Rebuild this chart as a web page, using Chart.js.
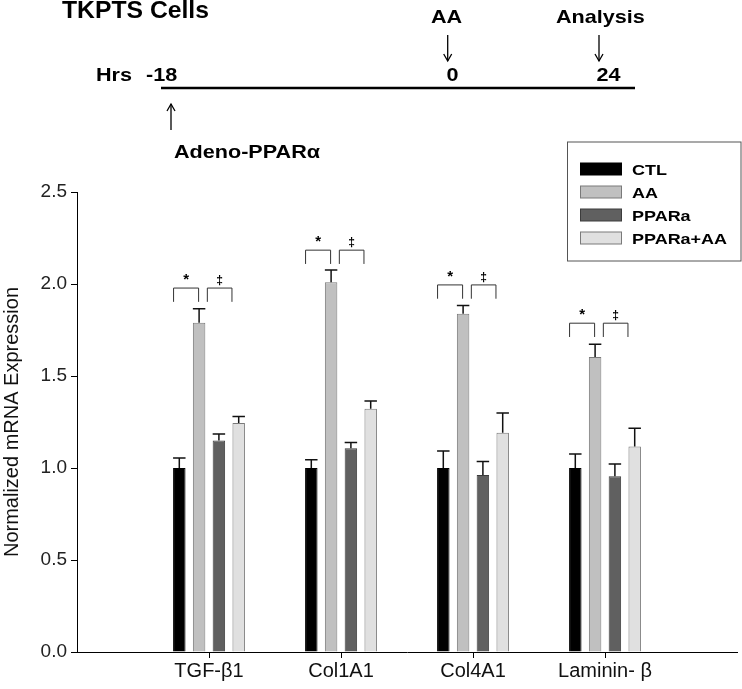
<!DOCTYPE html>
<html><head><meta charset="utf-8">
<script src="https://cdn.jsdelivr.net/npm/chart.js@4.4.1/dist/chart.umd.min.js"></script>
<style>
html,body{margin:0;padding:0;background:#fff;}
#wrap{position:relative;width:742px;height:689px;overflow:hidden;background:#fff;}
#c{position:absolute;left:0;top:0;}
#ann{position:absolute;left:0;top:0;pointer-events:none;}
#ann text{font-family:'Liberation Sans',Arial,sans-serif;font-weight:bold;fill:#000;}
</style></head><body>
<div id="wrap"><canvas id="c" width="742" height="689"></canvas><svg id="ann" width="742" height="689" xmlns="http://www.w3.org/2000/svg"></svg></div>
<script>
// ---- data ----
const categories = ['TGF-β1', 'Col1A1', 'Col4A1', 'Laminin- β'];
const seriesNames = ['CTL', 'AA', 'PPARa', 'PPARa+AA'];
const ctlValues   = [1.00, 1.00, 1.00, 1.00];
const aaValues    = [1.79, 2.01, 1.838, 1.603];
const ppValues    = [1.149, 1.108, 0.962, 0.955];
const ppAaValues  = [1.245, 1.322, 1.192, 1.117];
const ctlErrors   = [0.054, 0.045, 0.092, 0.076];
const aaErrors    = [0.075, 0.066, 0.045, 0.069];
const ppErrors    = [0.036, 0.030, 0.074, 0.067];
const ppAaErrors  = [0.035, 0.042, 0.107, 0.099];
const bracketLevels = [1.978, 2.184, 1.995, 1.787];
const bracketDrop = 0.075;
const sigMarks = ['*', '‡'];
const yTicks = [0.0, 0.5, 1.0, 1.5, 2.0, 2.5];
const yTitle = 'Normalized mRNA Expression';
const timelineTitle = 'TKPTS Cells';
const hourLabels = ['-18', '0', '24'];
const eventLabels = ['Adeno-PPARα', 'AA', 'Analysis'];

// ---- styles ----
const fills   = ['#000000', '#c0c0c0', '#606060', '#e0e0e0'];
const borders = ['#000000', '#7a7a7a', '#3c3c3c', '#7a7a7a'];
const FONT = "'Liberation Sans', Arial, sans-serif";

const labels = ['', ...categories, ''];
const pad = arr => [null, ...arr, null];
const valueSets = [ctlValues, aaValues, ppValues, ppAaValues];
const errorSets = [ctlErrors, aaErrors, ppErrors, ppAaErrors];

const datasets = seriesNames.map((name, i) => ({
  label: name,
  data: pad(valueSets[i]),
  backgroundColor: fills[i],
  borderColor: borders[i],
  borderWidth: 1,
  categoryPercentage: 0.6,
  barPercentage: 0.63
}));

const annotate = {
  id: 'annotate',
  afterDatasetsDraw(chart) {
    const ctx = chart.ctx, y = chart.scales.y;
    ctx.save();
    // error bars (upper only)
    chart.data.datasets.forEach((ds, di) => {
      const meta = chart.getDatasetMeta(di);
      meta.data.forEach((bar, i) => {
        const v = ds.data[i];
        if (v == null) return;
        const e = errorSets[di][i - 1];
        const yb = y.getPixelForValue(v), yt = y.getPixelForValue(v + e);
        const hw = bar.width / 2;
        ctx.strokeStyle = '#111';
        ctx.lineWidth = 1.5;
        ctx.beginPath();
        ctx.moveTo(bar.x, yb); ctx.lineTo(bar.x, yt);
        ctx.moveTo(bar.x - hw, yt); ctx.lineTo(bar.x + hw, yt);
        ctx.stroke();
      });
    });
    // significance brackets
    const m0 = chart.getDatasetMeta(0).data, m1 = chart.getDatasetMeta(1).data, m3 = chart.getDatasetMeta(3).data;
    categories.forEach((c, k) => {
      const i = k + 1;
      const top = y.getPixelForValue(bracketLevels[k]);
      const bot = y.getPixelForValue(bracketLevels[k] - bracketDrop);
      const spans = [
        [m0[i].x - m0[i].width / 2, m1[i].x],
        [m1[i].x + m1[i].width / 2 + 1.5, m3[i].x - m3[i].width / 2]
      ];
      ctx.strokeStyle = '#333';
      ctx.lineWidth = 1;
      spans.forEach(([a, b], s) => {
        ctx.beginPath();
        ctx.moveTo(a + 0.5, bot); ctx.lineTo(a + 0.5, top); ctx.lineTo(b - 0.5, top); ctx.lineTo(b - 0.5, bot);
        ctx.stroke();
        ctx.fillStyle = '#000';
        ctx.textAlign = 'center';
        ctx.textBaseline = 'alphabetic';
        ctx.font = (s === 0 ? 'bold 15px ' : 'bold 12px ') + FONT;
        ctx.fillText(sigMarks[s], (a + b) / 2, top - 4);
      });
    });
    ctx.restore();
  }
};

new Chart(document.getElementById('c'), {
  type: 'bar',
  data: { labels, datasets },
  plugins: [annotate],
  options: {
    responsive: false,
    animation: false,
    layout: { padding: { top: 192, right: 5, left: 0, bottom: 0 } },
    plugins: { legend: { display: false }, tooltip: { enabled: false } },
    scales: {
      x: {
        type: 'category',
        offset: false,
        grid: {
          offset: false, drawOnChartArea: false, drawTicks: true, tickLength: 6,
          tickColor: c => (c.index > 0 && c.index < labels.length - 1) ? '#000' : 'rgba(0,0,0,0)'
        },
        border: { color: '#000', width: 1 },
        ticks: { autoSkip: false, maxRotation: 0, padding: 1, color: '#111', font: { family: FONT, size: 20 } },
        afterFit: s => { s.height = 37; }
      },
      y: {
        min: 0, max: 2.5,
        afterBuildTicks: s => { s.ticks = yTicks.map(v => ({ value: v })); },
        grid: { drawOnChartArea: false, drawTicks: true, tickLength: 6, tickColor: '#000' },
        border: { color: '#000', width: 1 },
        ticks: { padding: 4, color: '#222', font: { family: FONT, size: 19 }, callback: v => Number(v).toFixed(1) },
        title: { display: true, text: yTitle, color: '#111', font: { family: FONT, size: 20 }, padding: { top: 0, bottom: 0 } },
        afterFit: s => { s.width = 77; }
      }
    }
  }
});

// ---- timeline + legend (SVG overlay) ----
const svg = document.getElementById('ann');
const NS = 'http://www.w3.org/2000/svg';
function el(tag, attrs, text) {
  const e = document.createElementNS(NS, tag);
  for (const k in attrs) e.setAttribute(k, attrs[k]);
  if (text != null) e.textContent = text;
  svg.appendChild(e);
  return e;
}
function stext(str, x, y, size, sx) {
  return el('text', { x: 0, y: 0, 'font-size': size, transform: `translate(${x},${y}) scale(${sx},1)` }, str);
}
function arrow(x, y1, y2) { // head at y2
  const d = y2 > y1 ? -1 : 1;
  el('line', { x1: x, y1: y1, x2: x, y2: y2, stroke: '#000', 'stroke-width': 1.3 });
  el('polyline', { points: `${x - 4},${y2 + d * 7} ${x},${y2} ${x + 4},${y2 + d * 7}`, fill: 'none', stroke: '#000', 'stroke-width': 1.3 });
}
stext(timelineTitle, 62, 18, 24, 1.03);
stext('Hrs', 96, 81, 18, 1.2);
stext(hourLabels[0], 146, 81, 18, 1.2);
stext(hourLabels[1], 446.5, 81, 18, 1.2);
stext(hourLabels[2], 596.5, 81, 18, 1.2);
stext(eventLabels[1], 431, 22.7, 18, 1.2);
stext(eventLabels[2], 556, 22.7, 18, 1.2);
stext(eventLabels[0], 174, 158, 18, 1.2);
el('line', { x1: 161, y1: 88, x2: 635, y2: 88, stroke: '#000', 'stroke-width': 2.6 });
arrow(447.7, 35, 61);
arrow(599, 35, 61);
arrow(171, 130, 104);

// legend
el('rect', { x: 567.5, y: 142, width: 173.5, height: 119, fill: '#fff', stroke: '#555', 'stroke-width': 1 });
seriesNames.forEach((n, i) => {
  const cy = 169 + i * 23;
  el('rect', { x: 580.5, y: cy - 6, width: 41, height: 12, fill: fills[i], stroke: borders[i], 'stroke-width': 1 });
  stext(n, 632, cy + 5.5, 15, 1.2);
});
</script>
</body></html>
